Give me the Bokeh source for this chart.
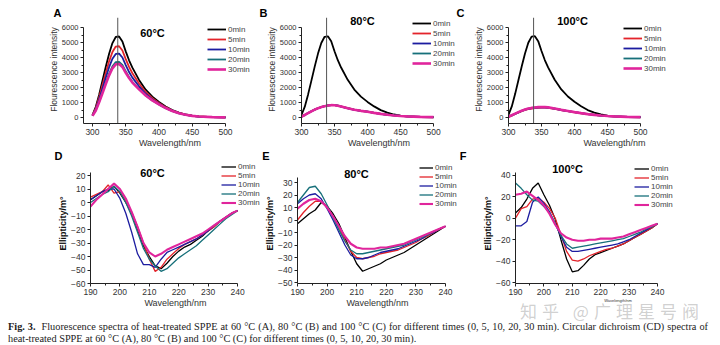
from bokeh.plotting import figure
from bokeh.models import Label, Legend, LegendItem, FixedTicker, Div
from bokeh.layouts import column, row
from bokeh.embed import file_html
from bokeh.resources import INLINE

SANS = "Liberation Sans"

# ---------------- data ----------------
series_labels = ["0min", "5min", "10min", "20min", "30min"]
series_colors = ["#000000", "#e3242b", "#1c1ca0", "#17707a", "#e0259c"]

wl_f = [300, 305, 310, 315, 320, 325, 330, 335, 340, 345, 350, 355, 360,
        370, 380, 390, 400, 410, 420, 430, 440, 450, 460, 480, 500]

a0 = [165, 710, 1525, 2450, 3380, 4250, 4960, 5370, 5400, 5070, 4410, 3815, 3325, 2505, 1855, 1390, 1035, 735, 490, 325, 200, 120, 70, 27, 11]
a5 = [145, 625, 1345, 2160, 2975, 3745, 4370, 4730, 4750, 4465, 3890, 3370, 2950, 2270, 1700, 1290, 970, 690, 460, 305, 190, 112, 66, 26, 10]
a10 = [130, 560, 1205, 1935, 2665, 3355, 3915, 4235, 4255, 4000, 3490, 3030, 2660, 2080, 1580, 1200, 910, 650, 440, 290, 180, 108, 64, 25, 10]
a20 = [115, 490, 1050, 1690, 2325, 2925, 3415, 3695, 3710, 3500, 3080, 2700, 2380, 1900, 1470, 1130, 860, 620, 420, 280, 175, 105, 62, 24, 10]
a30 = [110, 470, 1010, 1620, 2230, 2810, 3280, 3545, 3565, 3370, 2980, 2630, 2330, 1880, 1470, 1140, 870, 630, 430, 285, 180, 108, 64, 25, 10]

b0 = [170, 720, 1540, 2460, 3390, 4260, 4970, 5380, 5410, 5080, 4420, 3820, 3330, 2510, 1860, 1390, 1040, 740, 490, 325, 200, 120, 70, 27, 11]
b5 = [60, 175, 300, 420, 530, 620, 700, 760, 805, 830, 825, 790, 735, 620, 520, 450, 390, 315, 245, 185, 140, 105, 78, 45, 25]
b10 = [55, 170, 295, 415, 525, 615, 695, 755, 800, 825, 820, 785, 730, 615, 515, 445, 385, 310, 240, 182, 138, 104, 77, 44, 24]
b20 = [58, 172, 298, 418, 528, 618, 698, 758, 802, 828, 822, 788, 732, 618, 518, 448, 388, 312, 242, 184, 139, 104, 78, 45, 25]
b30 = [52, 168, 292, 412, 522, 612, 692, 752, 798, 822, 818, 784, 728, 614, 514, 444, 384, 308, 240, 181, 137, 103, 76, 44, 24]

c0 = [180, 740, 1560, 2480, 3400, 4270, 4980, 5390, 5420, 5090, 4430, 3830, 3340, 2520, 1870, 1400, 1045, 745, 495, 330, 205, 122, 72, 28, 11]
c5 = [45, 130, 230, 330, 420, 500, 560, 600, 630, 650, 660, 655, 640, 570, 490, 420, 350, 280, 220, 170, 125, 95, 70, 40, 22]
c10 = [48, 140, 245, 345, 440, 520, 580, 620, 650, 670, 680, 672, 655, 585, 500, 428, 355, 285, 222, 172, 127, 96, 71, 41, 22]
c20 = [50, 145, 250, 350, 445, 525, 585, 630, 660, 680, 690, 682, 665, 592, 505, 432, 358, 288, 225, 174, 128, 97, 72, 41, 22]
c30 = [52, 150, 258, 360, 455, 535, 595, 640, 670, 690, 700, 692, 675, 600, 510, 436, 360, 290, 226, 175, 129, 98, 72, 42, 22]

wl_c = [190, 192, 194, 196, 198, 200, 202, 204, 206, 208, 210, 212, 214,
        216, 218, 220, 222, 224, 226, 228, 230, 232, 234, 236, 238, 240]

d0 = [2, 5, 8, 9, 12, 7, 0, -8, -20, -32, -40, -47, -49, -45, -40, -36, -33, -31, -28, -25, -21, -18, -14, -11, -8, -6]
d5 = [4, 6, 8, 13, 7, 8, 1, -7, -18, -30, -42, -51, -48, -42, -38, -34, -31, -29, -27, -24, -21, -18, -14, -11, -8, -6]
d10 = [2, 5, 8, 10, 10, 3, -8, -22, -38, -46, -46, -48, -42, -37, -35, -33, -31, -29, -27, -24, -21, -17, -14, -11, -8, -6]
d20 = [0, 3, 6, 8, 12, 8, 0, -10, -22, -34, -42, -47, -51, -49, -45, -41, -38, -35, -32, -28, -24, -20, -16, -12, -9, -6]
d30 = [-3, 2, 6, 10, 14, 10, 3, -7, -18, -30, -37, -40, -38, -35, -33, -31, -29, -27, -25, -23, -20, -17, -14, -11, -8, -6]

e0 = [-3, 1, 5, 8, 14, 11, 5, -3, -14, -25, -35, -41, -39, -37, -35, -32, -30, -28, -26, -23, -20, -17, -14, -11, -8, -5]
e5 = [0, 6, 11, 15, 15, 11, 3, -6, -16, -25, -30, -31, -30, -29, -27, -26, -25, -24, -22, -20, -18, -15, -13, -10, -7, -5]
e10 = [13, 17, 20, 21, 17, 9, 0, -10, -20, -28, -31, -31, -30, -28, -26, -25, -24, -23, -21, -19, -17, -15, -12, -10, -7, -5]
e20 = [14, 20, 26, 27, 21, 12, 2, -8, -17, -24, -27, -27, -26, -25, -24, -23, -22, -21, -20, -18, -16, -14, -12, -9, -7, -5]
e30 = [9, 13, 16, 17, 15, 10, 3, -5, -13, -19, -22, -23, -23, -23, -22, -22, -21, -20, -19, -17, -15, -13, -11, -9, -7, -5]

f0 = [5, 10, 18, 28, 33, 22, 12, -1, -20, -38, -50, -49, -44, -38, -34, -32, -30, -28, -26, -24, -21, -18, -15, -12, -9, -5]
f5 = [0, 9, 11, 18, 19, 15, 9, 0, -15, -31, -39, -40, -38, -35, -33, -31, -29, -28, -26, -24, -21, -18, -15, -12, -9, -5]
f10 = [-7, -7, -3, 15, 20, 14, 6, -5, -17, -27, -31, -31, -30, -29, -28, -27, -26, -25, -24, -22, -20, -17, -14, -11, -8, -5]
f20 = [33, 28, 22, 17, 16, 11, 5, -5, -16, -24, -28, -27, -26, -25, -24, -23, -22, -21, -20, -19, -17, -15, -13, -10, -8, -5]
f30 = [22, 23, 25, 21, 17, 12, 4, -6, -14, -18, -20, -21, -21, -20, -20, -19, -19, -19, -18, -17, -15, -13, -11, -9, -7, -5]

fl_xticks = [300, 350, 400, 450, 500]
fl_xminor = [325, 375, 425, 475]
fl_yticks = [0, 1000, 2000, 3000, 4000, 5000, 6000]
fl_yminor = [500, 1500, 2500, 3500, 4500, 5500]
cd_xticks = [190, 200, 210, 220, 230, 240]
cd_xminor = [195, 205, 215, 225, 235]
peak_line = 338

caption1 = ("<b>Fig. 3.</b>&nbsp; Fluorescence spectra of heat-treated SPPE at 60 °C (A), 80 °C (B) and 100 °C (C) "
            "for different times (0, 5, 10, 20, 30 min). Circular dichroism (CD) spectra of")
caption2 = "heat-treated SPPE at 60 °C (A), 80 °C (B) and 100 °C (C) for different times (0, 5, 10, 20, 30 min)."
watermark = "知乎 @广理星号阀"


def make_panel(width, height, xr, yr, xb, yb, fl, ft, fb, xs, ys_list, xt, xm, yt, ym,
               ylabel, ylabel_bold, xlabel_size, tick_x_size, tick_y_size, lw):
    p = figure(width=width, height=height, x_range=xr, y_range=yr, title=None,
               output_backend="svg", toolbar_location=None,
               min_border_left=fl, min_border_right=0,
               min_border_top=ft, min_border_bottom=fb)
    p.outline_line_color = None
    p.grid.visible = False
    p.xaxis.ticker = FixedTicker(ticks=xt, minor_ticks=xm)
    p.yaxis.ticker = FixedTicker(ticks=yt, minor_ticks=ym)
    p.xaxis.bounds = xb
    p.yaxis.bounds = yb
    for ax in (p.xaxis[0], p.yaxis[0]):
        ax.axis_line_color = "#222222"
        ax.major_tick_line_color = "#222222"
        ax.minor_tick_line_color = "#222222"
        ax.major_tick_out = 3
        ax.major_tick_in = 0
        ax.minor_tick_out = 2
        ax.minor_tick_in = 0
        ax.major_label_text_font = SANS
        ax.major_label_text_color = "#333333"
        ax.major_label_standoff = 2
        ax.axis_label_text_font = SANS
        ax.axis_label_standoff = 0
    p.xaxis.major_label_text_font_size = tick_x_size
    p.yaxis.major_label_text_font_size = tick_y_size
    p.xaxis.axis_label = "Wavelength/nm"
    p.xaxis.axis_label_text_font_size = xlabel_size
    p.xaxis.axis_label_text_font_style = "normal"
    p.xaxis.axis_label_text_color = "#333333"
    p.yaxis.axis_label = ylabel
    if ylabel_bold:
        p.yaxis.axis_label_text_font_style = "bold"
        p.yaxis.axis_label_text_font_size = "9px"
        p.yaxis.axis_label_text_color = "#111111"
    else:
        p.yaxis.axis_label_text_font_style = "normal"
        p.yaxis.axis_label_text_font_size = "8.5px"
        p.yaxis.axis_label_text_color = "#333333"
    rs = []
    for i, ys in enumerate(ys_list):
        w = lw + (0.8 if i == 4 else 0)
        r = p.line(xs, ys, line_color=series_colors[i], line_width=w)
        rs.append(r)
    return p, rs


def add_legend(p, rs, vx, vy, gw, rowh):
    items = [LegendItem(label=l, renderers=[r]) for l, r in zip(series_labels, rs)]
    leg = Legend(items=items, location=(vx, vy), orientation="vertical",
                 background_fill_alpha=0, border_line_alpha=0, padding=0, margin=0,
                 spacing=0, glyph_width=gw, glyph_height=rowh, label_height=rowh,
                 label_standoff=2, label_text_font=SANS, label_text_font_size="8px",
                 label_text_color="#444444")
    p.add_layout(leg)


def make_text(x, y, text, size):
    return Label(x=x, y=y, x_units="screen", y_units="screen", text=text,
                 text_font=SANS, text_font_size=size, text_font_style="bold",
                 text_color="#000000", text_align="center", text_baseline="middle")


# -------- row 1 (fluorescence) --------
H1 = 150
fr_y = (-400, 6800)
fr_yb = (-400, 6000)
vline_top = 6650
pA, rA = make_panel(256, H1, (286.5, 546.6), fr_y, (286.5, 500), fr_yb, 83, 15, 27, wl_f, [a0, a5, a10, a20, a30],
                    fl_xticks, fl_xminor, fl_yticks, fl_yminor, "Flourescence intensity", False,
                    "9px", "8.5px", "7.5px", 1.8)
pB, rB = make_panel(200, H1, (300, 534.8), fr_y, (300, 500), fr_yb, 45, 15, 27, wl_f, [b0, b5, b10, b20, b30],
                    fl_xticks, fl_xminor, fl_yticks, fl_yminor, "Flourescence intensity", False,
                    "9px", "8.5px", "7.5px", 1.8)
pC, rC = make_panel(264, H1, (300, 621.2), fr_y, (300, 500), fr_yb, 52, 15, 27, wl_f, [c0, c5, c10, c20, c30],
                    fl_xticks, fl_xminor, fl_yticks, fl_yminor, "Flourescence intensity", False,
                    "9px", "8.5px", "7.5px", 1.8)
for p in (pA, pB, pC):
    p.segment(x0=[peak_line], y0=[fr_y[0]], x1=[peak_line], y1=[vline_top],
              line_color="#555555", line_width=1)

add_legend(pA, rA, 124, 49, 19, 10)
add_legend(pB, rB, 111, 55, 19, 10)
add_legend(pC, rC, 115, 50, 19, 10)
pA.add_layout(make_text(69, 91, "60°C", "11px"))
pB.add_layout(make_text(61, 103, "80°C", "11px"))
pC.add_layout(make_text(64, 103, "100°C", "11px"))
pA.add_layout(make_text(20, 111, "A", "11px"), "left")
pB.add_layout(make_text(-38, 3, "B", "11px"), "above")
pC.add_layout(make_text(-48, 3, "C", "11px"), "above")

# -------- row 2 (CD) --------
H2 = 160
pD, rD = make_panel(260, H2, (190, 247.8), (-60, 28.9), (190, 240), (-60, 22), 90, 13, 27, wl_c,
                    [d0, d5, d10, d20, d30],
                    cd_xticks, cd_xminor, [-60, -50, -40, -30, -20, -10, 0, 10, 20], [],
                    "Ellipticity/m°", True, "9px", "8.5px", "8.5px", 1.3)
pE, rE = make_panel(197, H2, (190, 244.05), (-50.8, 45.2), (190, 240), (-50.8, 34), 37, 13, 27, wl_c,
                    [e0, e5, e10, e20, e30],
                    cd_xticks, cd_xminor, [-50, -40, -30, -20, -10, 0, 10, 20, 30], [],
                    "Ellipticity/m°", True, "9px", "8.5px", "8.5px", 1.3)
pF, rF = make_panel(263, H2, (190, 262.2), (-60.93, 51.2), (190, 240), (-60.93, 42.8), 58, 13, 27, wl_c,
                    [f0, f5, f10, f20, f30],
                    cd_xticks, cd_xminor, [-60, -40, -20, 0, 20, 40], [],
                    "Ellipticity/m°", True, "4px", "8.5px", "8.5px", 1.3)

add_legend(pD, rD, 131, 76.5, 15, 9)
add_legend(pE, rE, 122, 75, 14, 9)
add_legend(pF, rF, 119, 74, 15, 9)
pD.add_layout(make_text(62, 111, "60°C", "11px"))
pE.add_layout(make_text(59, 110, "80°C", "11px"))
pF.add_layout(make_text(52, 115, "100°C", "11px"))
pD.add_layout(make_text(11, 128, "D", "11px"), "left")
pE.add_layout(make_text(-31.5, 8, "E", "11px"), "above")
pF.add_layout(make_text(-52.5, 8, "F", "11px"), "above")

cap_html = (
    '<div style="position:relative;width:708px;height:35px;padding-left:8px;'
    'font-family:\'Liberation Serif\',serif;font-size:10.3px;color:#222;line-height:12px;">'
    '<div style="position:absolute;left:520px;top:-8px;font-family:\'Noto Sans CJK SC\';'
    'font-size:17px;line-height:18px;color:rgba(150,150,150,0.45);letter-spacing:5px;white-space:nowrap;">'
    + watermark + '</div>'
    '<div style="padding-top:11px;text-align:justify;text-align-last:justify;white-space:nowrap;">'
    + caption1 + '</div>'
    '<div style="white-space:nowrap;">' + caption2 + '</div></div>'
)
cap = Div(text=cap_html, width=720, height=35, margin=(0, 0, 0, 0))

layout = column(row(pA, pB, pC), row(pD, pE, pF), cap)
open("out.html", "w").write(file_html(layout, INLINE))
